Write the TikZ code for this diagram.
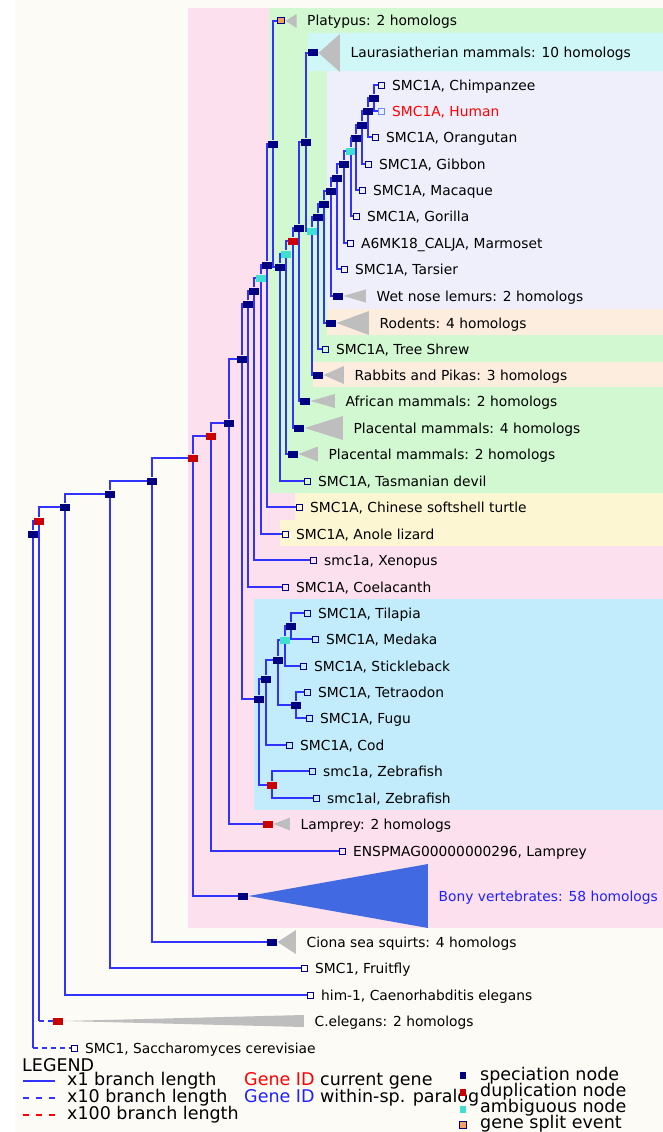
\documentclass[tikz,border=0pt]{standalone}
\usepackage{fontspec}
\setmainfont{DejaVu Sans}
\usetikzlibrary{positioning}

\definecolor{paper}{HTML}{FCFBF5}
\definecolor{pinkbg}{HTML}{FCE0EE}
\definecolor{greenbg}{HTML}{D2F8D2}
\definecolor{cyanbg}{HTML}{CFF7F7}
\definecolor{lavbg}{HTML}{EFEFFC}
\definecolor{peachbg}{HTML}{FCEDDF}
\definecolor{yellowbg}{HTML}{FCF7D2}
\definecolor{fishbg}{HTML}{C2ECFC}
\definecolor{treeblue}{HTML}{3232FF}
\definecolor{specnavy}{HTML}{000080}
\definecolor{dupred}{HTML}{CC0000}
\definecolor{ambigcyan}{HTML}{40E0D0}
\definecolor{splitorange}{HTML}{F0A060}
\definecolor{clpsgray}{HTML}{BEBEBE}
\definecolor{bonyblue}{HTML}{4169E1}
\definecolor{humanblue}{HTML}{6A8CFF}
\definecolor{paralogblue}{HTML}{2020FF}

\begin{document}
\begin{tikzpicture}[x=1pt, y=-1pt,
  brn/.style={draw=treeblue, line width=1.5pt},
  spec/.style={rectangle, fill=specnavy, minimum width=9.5pt, minimum height=7pt, inner sep=0pt},
  dupl/.style={spec, fill=dupred},
  ambig/.style={spec, fill=ambigcyan},
  gsplit/.style={rectangle, fill=splitorange, draw=specnavy, line width=1pt, minimum width=7pt, minimum height=6pt, inner sep=0pt},
  leafbox/.style={rectangle, draw=specnavy, line width=1pt, minimum size=6pt, inner sep=0pt},
  lbl/.style={anchor=base west, inner sep=0pt, font=\fontsize{13.8}{15}\selectfont},
  leg/.style={anchor=base west, inner sep=0pt, font=\fontsize{17.5}{20}\selectfont},
  legbox/.style={rectangle, minimum width=6.5pt, minimum height=7pt, inner sep=0pt}]

\useasboundingbox (0,0) rectangle (663,1132);

% coloured taxon bands
\fill[white] (0,0) rectangle (663,1132);
\fill[paper] (15,0) rectangle (663,1132);
\fill[pinkbg] (188,8) rectangle (663,928);
\fill[greenbg] (269,8) rectangle (663,493);
\fill[cyanbg] (308,33) rectangle (663,71);
\fill[lavbg] (327,71) rectangle (663,309);
\fill[peachbg] (327,309) rectangle (663,335);
\fill[peachbg] (313,362) rectangle (663,387);
\fill[yellowbg] (295,493) rectangle (663,520);
\fill[yellowbg] (280,520) rectangle (663,546);
\fill[fishbg] (254,599) rectangle (663,810);

% internal nodes
\foreach \nm/\x/\y in {R0/33/534, N2/65/507, N3/110/494, N4/152/481, N7/229/423,
    N8/242/359, N9/248/304, N10/254/291, N12/267/265, M0/273/144, T0/280/267,
    E3/299/228, E4/306/142, P10/318/217, P9/324/204, P8/331/191, P7/337/178,
    P6/344/164, P4/356/138, P3/362/125, P2/368/111, P1/374/98,
    F0/259/699, F1/266/679, F2/278/660, F4/291/626, TF/296/705,
    cLaura/313/53, cLemur/338/296, cRodent/331/323, cRabbit/318/375,
    cAfric/305/401, cPlac4/299/428, cPlac2/293/454, cBony/243/896, cCiona/272/942}
  \node[spec] (\nm) at (\x,\y) {};
\foreach \nm/\x/\y in {D1/39/521, D5/193/458, D6/211/436, E2/293/241, Dz/272/785,
    cLamp/268/824, cElegans/58/1021}
  \node[dupl] (\nm) at (\x,\y) {};
\foreach \nm/\x/\y in {A11/261/278, E1/286/254, E5/312/231, P5/351/151, A3/285/640}
  \node[ambig] (\nm) at (\x,\y) {};
\node[gsplit] (cPlaty) at (281,21) {};

% leaves
\foreach \nm/\x/\y/\txt in {Chimp/381/85/{SMC1A, Chimpanzee}, Orang/375/137/{SMC1A, Orangutan},
    Gibbon/368/164/{SMC1A, Gibbon}, Macaque/362/190/{SMC1A, Macaque},
    Gorilla/356/216/{SMC1A, Gorilla}, Marmoset/350/243/{A6MK18\_CALJA, Marmoset},
    Tarsier/344/269/{SMC1A, Tarsier}, Shrew/325/349/{SMC1A, Tree Shrew},
    Devil/307/481/{SMC1A, Tasmanian devil}, Turtle/299/507/{SMC1A, Chinese softshell turtle},
    Anole/285/534/{SMC1A, Anole lizard}, Xenopus/313/560/{smc1a, Xenopus},
    Coela/285/587/{SMC1A, Coelacanth}, Tilapia/307/613/{SMC1A, Tilapia},
    Medaka/315/639/{SMC1A, Medaka}, Stickle/303/666/{SMC1A, Stickleback},
    Tetra/307/692/{SMC1A, Tetraodon}, Fugu/309/718/{SMC1A, Fugu},
    Cod/289/745/{SMC1A, Cod}, ZebraA/312/771/{smc1a, Zebrafish},
    ZebraB/316/798/{smc1al, Zebrafish}, Enspmag/342/851/{ENSPMAG00000000296, Lamprey},
    Fly/304/968/{SMC1, Fruitfly}, Him/310/995/{him-1, Caenorhabditis elegans},
    Yeast/74/1048/{SMC1, Saccharomyces cerevisiae}}{
  \node[leafbox] (l\nm) at (\x,\y) {};
  \node[lbl] (t\nm) at ([xshift=7.5pt, yshift=-5pt]l\nm.east) {\txt};
}
\node[leafbox, draw=humanblue] (lHuman) at (381,111) {};
\node[lbl, text=red] (tHuman) at ([xshift=7.5pt, yshift=-5pt]lHuman.east) {SMC1A, Human};

% collapsed subtrees
\foreach \nm/\len/\hh/\fc/\tc/\txt in {Platy/11/7/clpsgray/black/{Platypus: 2 homologs},
    Laura/21.5/19/clpsgray/black/{Laurasiatherian mammals: 10 homologs},
    Lemur/22.5/6.5/clpsgray/black/{Wet nose lemurs: 2 homologs},
    Rodent/32.5/12/clpsgray/black/{Rodents: 4 homologs},
    Rabbit/20.5/9/clpsgray/black/{Rabbits and Pikas: 3 homologs},
    Afric/24.5/7/clpsgray/black/{African mammals: 2 homologs},
    Plac4/38.5/12/clpsgray/black/{Placental mammals: 4 homologs},
    Plac2/19.5/7.5/clpsgray/black/{Placental mammals: 2 homologs},
    Lamp/16.5/6.5/clpsgray/black/{Lamprey: 2 homologs},
    Bony/179.5/32/bonyblue/paralogblue/{Bony vertebrates: 58 homologs},
    Ciona/18.5/12/clpsgray/black/{Ciona sea squirts: 4 homologs},
    Elegans/240.5/6/clpsgray/black/{C.elegans: 2 homologs}}{
  \fill[fill=\fc] ([xshift=0.5pt]c\nm.east) -- ++(\len pt,\hh pt) -- ++(0pt,-\hh pt) -- ++(0pt,-\hh pt) -- cycle;
  \node[lbl, text=\tc] (t\nm) at ([xshift=\len pt+11pt, yshift=-5pt]c\nm.east) {\txt};
}

% branches
\foreach \p/\c in {R0/D1, D1/N2, N2/N3, N2/lHim, N3/N4, N3/lFly, N4/D5, N4/cCiona,
    D5/D6, D5/cBony, D6/N7, D6/lEnspmag, N7/N8, N7/cLamp, N8/N9, N8/F0,
    N9/N10, N9/lCoela, N10/A11, N10/lXenopus, A11/N12, A11/lAnole,
    N12/M0, N12/lTurtle, M0/cPlaty, M0/T0, T0/E1, T0/lDevil,
    E1/E2, E1/cPlac2, E2/E3, E2/cPlac4, E3/E4, E3/cAfric, E4/cLaura, E4/E5,
    E5/P10, E5/cRabbit, P10/P9, P10/lShrew, P9/P8, P9/cRodent, P8/P7, P8/cLemur,
    P7/P6, P7/lTarsier, P6/P5, P6/lMarmoset, P5/P4, P5/lGorilla, P4/P3, P4/lMacaque,
    P3/P2, P3/lGibbon, P2/P1, P2/lOrang, P1/lChimp, P1/lHuman,
    F0/F1, F0/Dz, F1/F2, F1/lCod, F2/A3, F2/TF, A3/F4, A3/lStickle,
    F4/lTilapia, F4/lMedaka, TF/lTetra, TF/lFugu, Dz/lZebraA, Dz/lZebraB}
  \draw[brn] (\p) |- (\c);

% x10 branches
\coordinate (kYeast) at (R0 |- lYeast);
\coordinate (kElegans) at (D1 |- cElegans);
\draw[brn] (R0) -- (kYeast);
\draw[brn, dash pattern=on 5pt off 4pt] (kYeast) -- (lYeast);
\draw[brn] (D1) -- (kElegans);
\draw[brn, dash pattern=on 5pt off 4pt] (kElegans) -- (cElegans);

% legend
\node[leg] (legTitle) at (22,1071) {LEGEND};
\draw[brn] (23,1081) -- (55,1081);
\draw[brn, dash pattern=on 6pt off 7pt] (23,1098) -- (55,1098);
\draw[brn, draw=red, dash pattern=on 6pt off 7pt] (23,1115) -- (55,1115);
\node[leg] (legOne) at (67,1085) {x1 branch length};
\node[leg] (legTen) at (67,1102) {x10 branch length};
\node[leg] (legHun) at (67,1119) {x100 branch length};
\node[leg] (legCur) at (244,1085) {\textcolor{red}{Gene ID} current gene};
\node[leg] (legPar) at (244,1102) {\textcolor{paralogblue}{Gene ID} within-sp. paralog};
\node[legbox, fill=specnavy] (kSpec) at (463,1075) {};
\node[legbox, fill=dupred] (kDup) at (463,1092) {};
\node[legbox, fill=ambigcyan] (kAmb) at (463,1109) {};
\node[legbox, fill=splitorange, draw=specnavy, line width=1pt] (kSplit) at (463,1125) {};
\node[leg] (legSpec) at (480,1080) {speciation node};
\node[leg] (legDup) at (480,1096) {duplication node};
\node[leg] (legAmb) at (480,1112) {ambiguous node};
\node[leg] (legSplit) at (480,1128) {gene split event};

\end{tikzpicture}
\end{document}
